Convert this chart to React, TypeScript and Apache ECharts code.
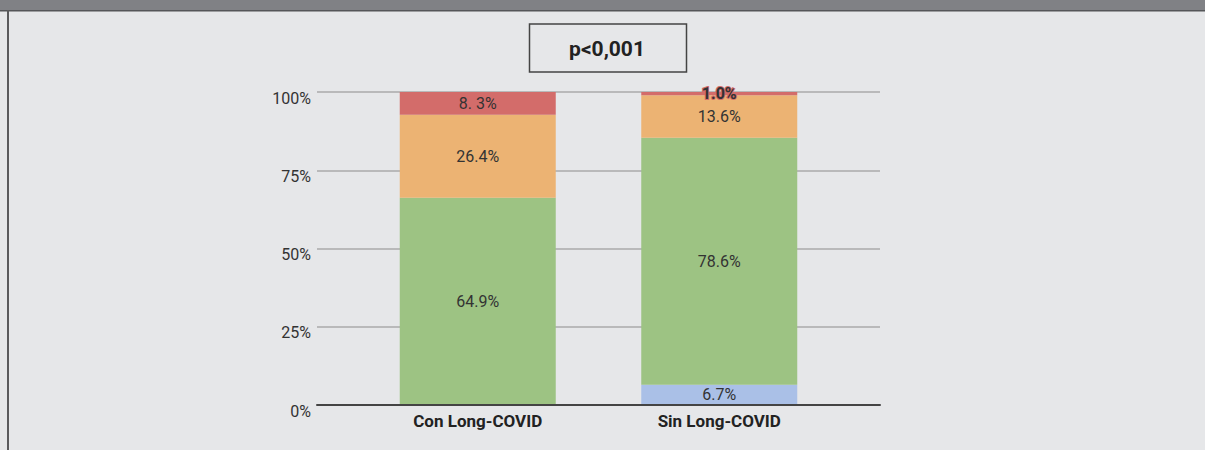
import React, { useEffect, useRef } from "react";
import * as echarts from "echarts";

const categories = ["Con Long-COVID", "Sin Long-COVID"];
const yTicks = [0, 25, 50, 75, 100];
const seriesNames = ["Azul", "Verde", "Naranja", "Rojo"];
// bar heights as drawn in the picture
const blueValues = [0, 6.5];
const greenValues = [66.2, 78.9];
const orangeValues = [26.5, 13.6];
const redValues = [7.3, 1.0];
// printed labels
const blueLabels = ["", "6.7%"];
const greenLabels = ["64.9%", "78.6%"];
const orangeLabels = ["26.4%", "13.6%"];
const redLabels = ["8. 3%", "1.0%"];
const pValueText = "p<0,001";

export default function App() {
  const ref = useRef<HTMLDivElement>(null);
  useEffect(() => {
    if (!ref.current) return;
    const chart = echarts.init(ref.current, undefined, { renderer: "svg" });
    const font = "Roboto";
    const labelBase = { show: true, position: "inside", fontFamily: font, fontSize: 16, color: "#333" };
    const mk = (name: string, vals: number[], labels: string[], color: string, extraLabel: any = {}) => ({
      name,
      type: "bar",
      stack: "total",
      xAxisIndex: 1,
      yAxisIndex: 1,
      barWidth: 156,
      itemStyle: { color },
      data: vals.map((v, i) => ({
        value: v,
        label: { ...labelBase, ...(i === 1 ? extraLabel : {}), formatter: labels[i] },
      })),
    });
    chart.setOption({
      animation: false,
      backgroundColor: "#e6e7e9",
      grid: [
        { left: 317, right: 325, top: 92, bottom: 45 },
        { left: 357, right: 365, top: 92, bottom: 45 },
      ],
      xAxis: [
        {
          type: "category",
          gridIndex: 0,
          data: categories,
          axisLine: { show: true, lineStyle: { color: "#444", width: 2 } },
          axisTick: { show: false },
          axisLabel: { show: false },
          z: 5,
        },
        {
          type: "category",
          gridIndex: 1,
          data: categories,
          axisLine: { show: false },
          axisTick: { show: false },
          axisLabel: { show: true, fontFamily: font, fontSize: 17, fontWeight: "bold", color: "#222", margin: 7 },
        },
      ],
      yAxis: [
        {
          type: "value",
          gridIndex: 0,
          min: yTicks[0],
          max: yTicks[yTicks.length - 1],
          interval: 25,
          axisLine: { show: false },
          axisTick: { show: false },
          axisLabel: {
            fontFamily: font,
            fontSize: 16,
            color: "#333",
            margin: 6,
            verticalAlign: "top",
            lineHeight: 12,
            formatter: "{value}%",
          },
          splitLine: { lineStyle: { color: "#aaaaaa", width: 1.5 } },
        },
        {
          type: "value",
          gridIndex: 1,
          min: 0,
          max: 100,
          show: false,
          splitLine: { show: false },
        },
      ],
      series: [
        mk(seriesNames[0], blueValues, blueLabels, "#aac0e7"),
        mk(seriesNames[1], greenValues, greenLabels, "#9dc383"),
        mk(seriesNames[2], orangeValues, orangeLabels, "#ecb373"),
        mk(seriesNames[3], redValues, redLabels, "#d36c6a", {
          fontWeight: "bold",
          textBorderColor: "#d36c6a",
          textBorderWidth: 2,
        }),
      ],
      graphic: [
        { type: "rect", shape: { x: 0, y: 0, width: 1205, height: 10 }, style: { fill: "#808185" } },
        { type: "rect", shape: { x: 0, y: 10, width: 1205, height: 1.5 }, style: { fill: "#555659" } },
        { type: "rect", shape: { x: 7, y: 10, width: 2, height: 440 }, style: { fill: "#5a5a5c" } },
        {
          type: "rect",
          shape: { x: 529.5, y: 24, width: 157, height: 48 },
          style: { fill: "#e6e7e9", stroke: "#444", lineWidth: 1.5 },
        },
        {
          type: "text",
          x: 607,
          y: 49,
          style: {
            text: pValueText,
            fontFamily: font,
            fontSize: 21,
            fontWeight: "bold",
            fill: "#222",
            align: "center",
            verticalAlign: "middle",
          },
        },
      ],
    });
    return () => chart.dispose();
  }, []);
  return <div ref={ref} style={{ position: "fixed", left: 0, top: 0, width: 1205, height: 450 }} />;
}
